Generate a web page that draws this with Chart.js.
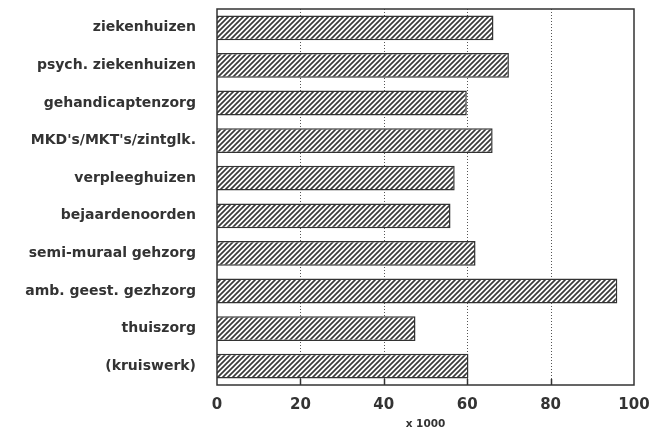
<!DOCTYPE html>
<html>
<head>
<meta charset="utf-8">
<script src="https://cdn.jsdelivr.net/npm/chart.js@4/dist/chart.umd.min.js"></script>
<style>
html, body { margin: 0; padding: 0; background: #fff; }
</style>
</head>
<body>
<canvas id="chart1" width="649" height="427"></canvas>
<script>
var categories = [
  'ziekenhuizen',
  'psych. ziekenhuizen',
  'gehandicaptenzorg',
  "MKD's/MKT's/zintglk.",
  'verpleeghuizen',
  'bejaardenoorden',
  'semi-muraal gehzorg',
  'amb. geest. gezhzorg',
  'thuiszorg',
  '(kruiswerk)'
];
var waarden = [66.3, 70.0, 59.9, 66.1, 57.0, 56.0, 62.0, 96.0, 47.6, 60.3];
var xTicks = [0, 20, 40, 60, 80, 100];
var xTitle = 'x 1000';

// arcering voor de balken
function maakArcering() {
  var c = document.createElement('canvas');
  c.width = 5;
  c.height = 5;
  var g = c.getContext('2d');
  g.fillStyle = '#fff';
  g.fillRect(0, 0, 5, 5);
  g.strokeStyle = '#3a3a3a';
  g.lineWidth = 1.7;
  g.beginPath();
  g.moveTo(-1, 1); g.lineTo(1, -1);
  g.moveTo(0, 5); g.lineTo(5, 0);
  g.moveTo(4, 6); g.lineTo(6, 4);
  g.stroke();
  return g.createPattern(c, 'repeat');
}

// stippellijnen, streepjes en kader
var kader = {
  id: 'kader',
  beforeDatasetsDraw: function(chart) {
    var ctx = chart.ctx, a = chart.chartArea, x = chart.scales.x;
    ctx.save();
    ctx.strokeStyle = '#555';
    ctx.lineWidth = 1;
    ctx.setLineDash([1, 2]);
    xTicks.forEach(function(v) {
      if (v === 0 || v === 100) return;
      var px = Math.round(x.getPixelForValue(v)) + 0.5;
      ctx.beginPath();
      ctx.moveTo(px, a.top);
      ctx.lineTo(px, a.bottom);
      ctx.stroke();
    });
    ctx.restore();
  },
  afterDatasetsDraw: function(chart) {
    var ctx = chart.ctx, a = chart.chartArea, x = chart.scales.x;
    ctx.save();
    ctx.strokeStyle = '#333';
    ctx.lineWidth = 1.5;
    xTicks.forEach(function(v) {
      if (v === 0 || v === 100) return;
      var px = Math.round(x.getPixelForValue(v)) + 0.5;
      ctx.beginPath();
      ctx.moveTo(px, a.bottom);
      ctx.lineTo(px, a.bottom - 6);
      ctx.stroke();
    });
    ctx.strokeRect(a.left, a.top, a.right - a.left, a.bottom - a.top);
    ctx.restore();
  }
};

const chartZorg = document.getElementById('chart1');

new Chart(chartZorg, {
  type: 'bar',
  data: {
    labels: categories,
    datasets: [{
      data: waarden,
      backgroundColor: maakArcering(),
      borderColor: '#333',
      borderWidth: 1.5,
      barPercentage: 0.66,
      categoryPercentage: 1.0
    }]
  },
  options: {
    indexAxis: 'y',
    responsive: false,
    animation: false,
    devicePixelRatio: 1,
    layout: { padding: { top: 9, right: 15, left: 0, bottom: 0 } },
    plugins: {
      legend: { display: false },
      tooltip: { enabled: false }
    },
    scales: {
      x: {
        min: 0,
        max: 100,
        afterBuildTicks: function(scale) {
          scale.ticks = xTicks.map(function(v) { return { value: v }; });
        },
        afterFit: function(scale) {
          scale.height = 42;
          scale.paddingLeft = 0;
          scale.paddingRight = 0;
        },
        grid: { display: false, drawTicks: false },
        border: { display: false },
        ticks: {
          color: '#333',
          padding: 11,
          maxRotation: 0,
          font: { family: 'DejaVu Sans', weight: 'bold', size: 15 }
        },
        title: {
          display: true,
          text: xTitle,
          color: '#333',
          padding: { top: 0, bottom: -4 },
          font: { family: 'DejaVu Sans', weight: 'bold', size: 10.5 }
        }
      },
      y: {
        afterFit: function(scale) {
          scale.width = 217;
          scale.paddingTop = 0;
          scale.paddingBottom = 0;
        },
        grid: { display: false, drawTicks: false },
        border: { display: false },
        ticks: {
          color: '#333',
          padding: 21,
          font: { family: 'DejaVu Sans', weight: 'bold', size: 14 }
        }
      }
    }
  },
  plugins: [kader]
});
</script>
</body>
</html>
